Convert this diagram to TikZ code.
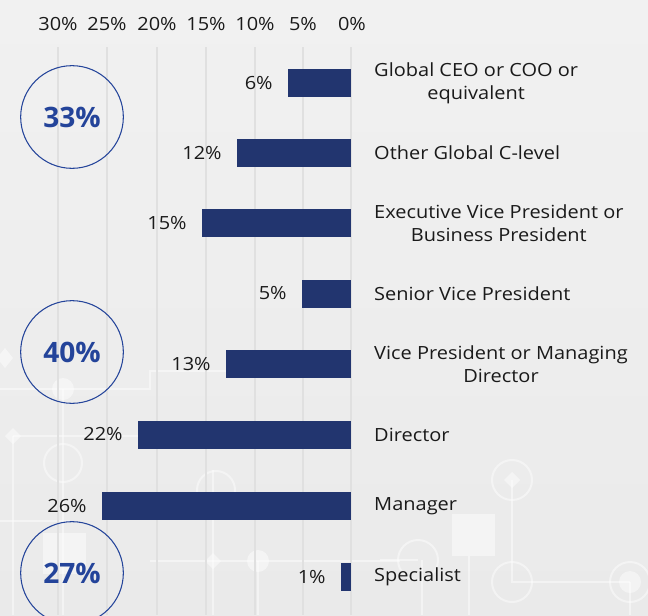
\documentclass[tikz,border=0pt]{standalone}
\usepackage{fontspec}
\setmainfont{Open Sans}
\newfontfamily\chartfont[FakeStretch=1.1]{Open Sans}
\definecolor{bgtop}{HTML}{F1F1F1}
\definecolor{bgbottom}{HTML}{EAEAEA}
\definecolor{gridgray}{HTML}{E0E0E0}
\definecolor{barblue}{HTML}{22356F}
\definecolor{ringblue}{HTML}{24449A}
\definecolor{txt}{HTML}{1A1A1A}
\begin{document}
\begin{tikzpicture}[x=0.03cm,y=-0.03cm]
\tikzstyle{txtsize}=[inner sep=0,text=txt,font=\chartfont\fontsize{15.5}{19.5}\selectfont]

\tikzstyle{bar}=[rectangle,fill=barblue,minimum height=0.84cm,inner sep=0,anchor=east]
\tikzstyle{value}=[txtsize,anchor=east]
\tikzstyle{label}=[txtsize,anchor=west,align=center]
\tikzstyle{axis}=[txtsize,anchor=base]
\tikzstyle{group}=[circle,draw=ringblue,line width=0.9pt,minimum size=3.08cm,text=ringblue,font=\fontsize{24}{28}\selectfont\bfseries]
\tikzstyle{grid}=[draw=gridgray,line width=1.6pt]
\tikzstyle{deco}=[draw=white,opacity=0.45,line width=1.7pt]
\tikzstyle{decofill}=[fill=white,opacity=0.45]

\shade[top color=bgtop,bottom color=bgbottom] (0,0) rectangle (648,615);
\useasboundingbox (0,0) rectangle (648,615);

% faint circuit pattern in the background
\draw[deco] (0,389) -- (150,389) -- (150,371) -- (230,371);
\draw[deco] (63,389) -- (63,615);
\draw[deco] (13,436) -- (150,436);
\draw[deco] (13,436) -- (13,615);
\draw[deco] (0,521) -- (70,521);
\draw[deco] (63,463) circle (19);
\fill[decofill] (63,389) circle (11);
\fill[decofill] (5,348) -- (13,358) -- (5,368) -- (-3,358) -- cycle;
\fill[decofill] (13,428) -- (21,436) -- (13,444) -- (5,436) -- cycle;
\fill[decofill] (43,533) rectangle (86,574);
\draw[deco] (150,561) -- (400,561);
\draw[deco] (213,470) -- (213,615);
\draw[deco] (258,561) -- (258,615);
\draw[deco] (216,490) circle (19);
\fill[decofill] (213,553) -- (221,561) -- (213,569) -- (205,561) -- cycle;
\fill[decofill] (258,561) circle (11);
\draw[deco] (380,560) -- (418,560);
\draw[deco] (418,560) circle (20);
\draw[deco] (422,560) -- (422,615);
\draw[deco] (469,556) -- (469,615);
\fill[decofill] (452,514) rectangle (495,556);
\draw[deco] (512,480) circle (20);
\draw[deco] (512,480) -- (512,582) -- (630,582);
\draw[deco] (512,582) circle (20);
\draw[deco] (630,582) circle (20);
\draw[deco] (630,582) -- (630,615);
\fill[decofill] (630,582) circle (11);
\fill[decofill] (512,472) -- (520,480) -- (512,488) -- (504,480) -- cycle;

% grid
\draw[grid] (58,47) -- (58,615);
\draw[grid] (107,47) -- (107,615);
\draw[grid] (157,47) -- (157,615);
\draw[grid] (206,47) -- (206,615);
\draw[grid] (255,47) -- (255,615);
\draw[grid] (303,47) -- (303,615);
\draw[grid] (351,47) -- (351,615);

\node[axis] at (58,30) (ax30) {30\%};
\node[axis] at (107,30) (ax25) {25\%};
\node[axis] at (157,30) (ax20) {20\%};
\node[axis] at (206,30) (ax15) {15\%};
\node[axis] at (255,30) (ax10) {10\%};
\node[axis] at (303,30) (ax5) {5\%};
\node[axis] at (352,30) (ax0) {0\%};

% bars
\node[bar,minimum width=1.89cm] at (351,83) (barCEO) {};
\node[value] at ([xshift=-0.44cm]barCEO.west) (valCEO) {6\%};
\node[label] at (374,83) (labCEO) {Global CEO or COO or\\equivalent};

\node[bar,minimum width=3.42cm] at (351,153) (barCL) {};
\node[value] at ([xshift=-0.44cm]barCL.west) (valCL) {12\%};
\node[label] at (374,153) (labCL) {Other Global C-level};

\node[bar,minimum width=4.47cm] at (351,223) (barEVP) {};
\node[value] at ([xshift=-0.44cm]barEVP.west) (valEVP) {15\%};
\node[label] at (374,223) (labEVP) {Executive Vice President or\\Business President};

\node[bar,minimum width=1.47cm] at (351,293.5) (barSVP) {};
\node[value] at ([xshift=-0.44cm]barSVP.west) (valSVP) {5\%};
\node[label] at (374,293.5) (labSVP) {Senior Vice President};

\node[bar,minimum width=3.75cm] at (351,364) (barVP) {};
\node[value] at ([xshift=-0.44cm]barVP.west) (valVP) {13\%};
\node[label] at (374,364) (labVP) {Vice President or Managing\\Director};

\node[bar,minimum width=6.39cm] at (351,434.5) (barDir) {};
\node[value] at ([xshift=-0.44cm]barDir.west) (valDir) {22\%};
\node[label] at (374,434.5) (labDir) {Director};

\node[bar,minimum width=7.47cm] at (351,506) (barMgr) {};
\node[value] at ([xshift=-0.44cm]barMgr.west) (valMgr) {26\%};
\node[label] at (374,506) (labMgr) {Manager};

\node[bar,minimum width=0.3cm] at (351,577) (barSpec) {};
\node[value] at ([xshift=-0.44cm]barSpec.west) (valSpec) {1\%};
\node[label] at (374,577) (labSpec) {Specialist};

% group totals
\node[group] at (72,117) (grpTop) {33\%};
\node[group] at (72,352) (grpMid) {40\%};
\node[group] at (72,573) (grpLow) {27\%};
\end{tikzpicture}
\end{document}
